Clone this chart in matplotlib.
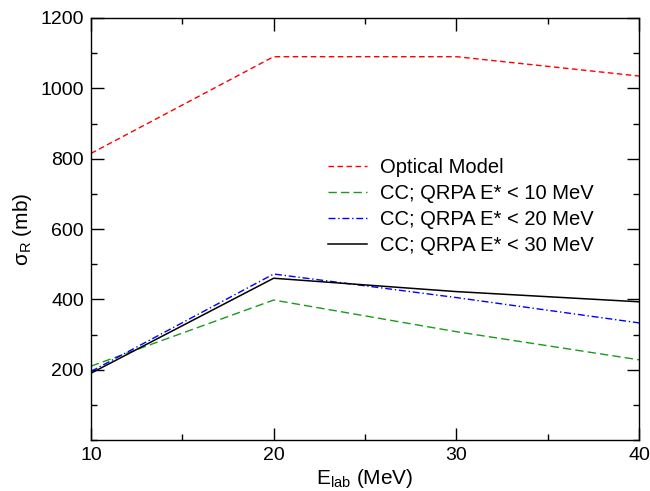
import matplotlib
matplotlib.use("Agg")
import matplotlib.pyplot as plt
from matplotlib.ticker import MultipleLocator

plt.rcParams['font.family'] = ['Liberation Sans', 'DejaVu Sans']

energy = [10, 20, 30, 40]
optical = [815, 1090, 1090, 1035]
cc_10 = [210, 398, 308, 228]
cc_20 = [195, 472, 405, 333]
cc_30 = [190, 460, 422, 393]

fig = plt.figure(figsize=(6.5, 4.91), dpi=100)
ax = fig.add_axes([91/650, 1 - 440/491, 548/650, 422/491])

ax.plot(energy, optical, color='red', dashes=(4, 2.5), lw=1, label='Optical Model')
ax.plot(energy, cc_10, color='#1a9a1a', dashes=(6, 3), lw=1, label='CC; QRPA E* < 10 MeV')
ax.plot(energy, cc_20, color='blue', dashes=(5, 2, 1, 2), lw=1, label='CC; QRPA E* < 20 MeV')
ax.plot(energy, cc_30, color='black', lw=1.1, label='CC; QRPA E* < 30 MeV')

ax.set_xlim(10, 40)
ax.set_ylim(0, 1200)
ax.xaxis.set_major_locator(MultipleLocator(10))
ax.xaxis.set_minor_locator(MultipleLocator(5))
ax.yaxis.set_minor_locator(MultipleLocator(100))
ax.set_yticks([200, 400, 600, 800, 1000, 1200])
ax.tick_params(which='both', direction='in', top=True, right=True, labelsize=14, width=1)
ax.tick_params(which='major', length=9, pad=5)
ax.tick_params(which='minor', length=4.5)
for s in ax.spines.values():
    s.set_linewidth(1)

ax.set_xlabel(r'E$_\mathregular{lab}$ (MeV)', fontsize=15, labelpad=2)
ax.set_ylabel(r'$\mathregular{\sigma_R}$ (mb)', fontsize=15, labelpad=5)

ax.legend(loc='upper left', bbox_to_anchor=(0.40, 0.711), frameon=False, fontsize=14.5,
          handlelength=1.9, labelspacing=0.34, handletextpad=0.65)

fig.savefig('out.png', dpi=100)
